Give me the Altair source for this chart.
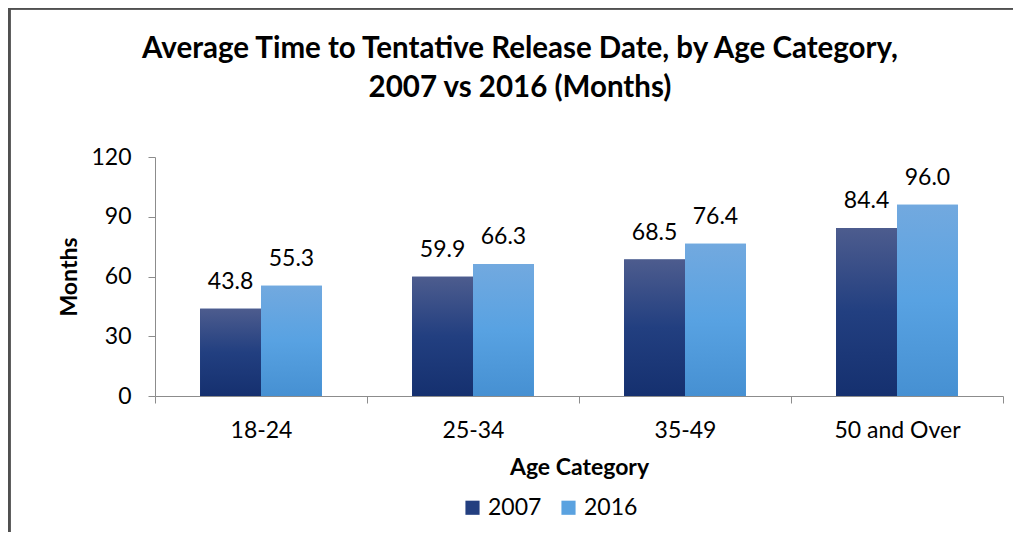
import altair as alt
import pandas as pd

categories = ["18-24", "25-34", "35-49", "50 and Over"]
years = ["2007", "2016"]
values_2007 = [43.8, 59.9, 68.5, 84.4]
values_2016 = [55.3, 66.3, 76.4, 96.0]

rows = []
for c, v1, v2 in zip(categories, values_2007, values_2016):
    rows.append({"category": c, "year": "2007", "value": v1})
    rows.append({"category": c, "year": "2016", "value": v2})
df = pd.DataFrame(rows)

FONT = "Lato"
W, H = 848, 239
FS = 23

x_enc = alt.X("category:N", sort=categories,
              scale=alt.Scale(paddingInner=0, paddingOuter=0),
              axis=alt.Axis(title="Age Category", labelAngle=0, labelFontSize=FS,
                            labelPadding=16, titleFontSize=FS, titleFontWeight="bold",
                            titlePadding=14, domainColor="#8c8c8c", tickColor="#8c8c8c",
                            tickBand="extent", tickSize=7, labelColor="#000",
                            titleColor="#000", labelFont=FONT, titleFont=FONT))
xo_enc = alt.XOffset("year:N", sort=years,
                     scale=alt.Scale(paddingInner=0, paddingOuter=0.74))
y_enc = alt.Y("value:Q", scale=alt.Scale(domain=[0, 120], nice=False),
              axis=alt.Axis(title="Months", values=[0, 30, 60, 90, 120], grid=False,
                            labelFontSize=FS, titleFontSize=FS, titleFontWeight="bold",
                            titlePadding=9, domainColor="#8c8c8c", tickColor="#8c8c8c",
                            tickSize=7, labelPadding=17, labelColor="#000",
                            titleColor="#000", labelFont=FONT, titleFont=FONT))

base = alt.Chart(df)

legend_bars = base.mark_bar().encode(
    x=x_enc, xOffset=xo_enc, y=y_enc,
    color=alt.Color("year:N", sort=years,
                    scale=alt.Scale(domain=years, range=["#233f80", "#5aa2e0"]),
                    legend=alt.Legend(title=None, orient="none", direction="horizontal",
                                      legendX=306, legendY=339, symbolType="square",
                                      symbolSize=200, labelFontSize=FS, labelFont=FONT,
                                      labelColor="#000", columnPadding=15,
                                      symbolStrokeWidth=0)),
)

dark_grad = alt.Gradient(gradient="linear", x1=0, x2=0, y1=0, y2=1, stops=[
    alt.GradientStop(color="#4d5c8e", offset=0),
    alt.GradientStop(color="#223f80", offset=0.5),
    alt.GradientStop(color="#15306f", offset=1),
])
light_grad = alt.Gradient(gradient="linear", x1=0, x2=0, y1=0, y2=1, stops=[
    alt.GradientStop(color="#72a9df", offset=0),
    alt.GradientStop(color="#58a2e2", offset=0.5),
    alt.GradientStop(color="#4690d2", offset=1),
])

dark_bars = base.transform_filter(alt.datum.year == "2007").mark_bar(color=dark_grad).encode(
    x=x_enc, xOffset=xo_enc, y=y_enc)
light_bars = base.transform_filter(alt.datum.year == "2016").mark_bar(color=light_grad).encode(
    x=x_enc, xOffset=xo_enc, y=y_enc)

labels = base.mark_text(dy=-27, fontSize=FS, font=FONT, color="#000").encode(
    x=x_enc, xOffset=xo_enc, y=y_enc, text=alt.Text("value:Q", format=".1f"))

border_left = base.mark_rule(color="#505050", strokeWidth=2.5, clip=False).encode(
    x=alt.value(-146), y=alt.value(-149), y2=alt.value(420))
border_top = base.mark_rule(color="#505050", strokeWidth=2.5, clip=False).encode(
    x=alt.value(-147), x2=alt.value(900), y=alt.value(-149))

chart = alt.layer(legend_bars, dark_bars, light_bars, labels, border_left, border_top).properties(
    width=W, height=H,
    title=alt.TitleParams(
        text=["Average Time to Tentative Release Date, by Age Category,",
              "2007 vs 2016 (Months)"],
        fontSize=29.5, font=FONT, fontWeight="bold", color="#000",
        anchor="middle", dx=-59, dy=97, offset=0, lineHeight=39),
    autosize=alt.AutoSizeParams(type="none"),
    padding={"left": 147, "top": 149, "right": 10, "bottom": 136},
).configure(background="white").configure_view(strokeOpacity=0, strokeWidth=0)

chart.save("out.html", embed_options={"renderer": "svg", "actions": False})
